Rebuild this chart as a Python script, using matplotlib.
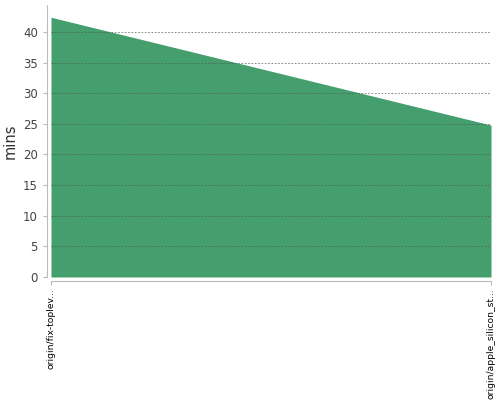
import matplotlib
matplotlib.use("Agg")
import matplotlib.pyplot as plt

categories = ["origin/fix-toplev...", "origin/apple_silicon_st..."]
values = [42.4, 24.8]
yticks = [0, 5, 10, 15, 20, 25, 30, 35, 40]

fig = plt.figure(figsize=(5, 4), dpi=100)
ax = fig.add_axes([0.102, 0.3075, 0.88, 0.68])
x = list(range(len(categories)))
ax.fill_between(x, 0, values, color="#449e6d", linewidth=0, zorder=1)
ax.set_xlim(0, len(categories) - 1)
ax.set_ylim(0, 44.4)
ax.set_yticks(yticks)
ax.set_xticks(x)
ax.yaxis.grid(True, color="#555555", linestyle=(0, (2, 2)), linewidth=0.6, zorder=3, alpha=0.8)
ax.set_axisbelow(False)
for s in ["top", "right"]:
    ax.spines[s].set_visible(False)
for s in ["left", "bottom"]:
    ax.spines[s].set_color("#bbbbbb")
    ax.spines[s].set_position(("outward", 2.9))
ax.tick_params(axis="y", colors="#bbbbbb", labelcolor="#444444", labelsize=8.5, length=3)
ax.tick_params(axis="x", colors="#bbbbbb", labelcolor="black", length=3, pad=2.5,
               labelrotation=90, labelsize=6.6)
ax.set_xticklabels(categories)
for lbl in ax.get_xticklabels():
    lbl.set_fontsize(6.6)
    lbl.set_rotation(90)
    lbl.set_verticalalignment("top")
    lbl.set_horizontalalignment("center")
for lbl in ax.get_yticklabels():
    lbl.set_fontsize(8.5)
ax.set_ylabel("mins", fontsize=10.5, color="#333333")
ax.yaxis.set_label_coords(-0.075, 0.5)
fig.savefig("out.png", dpi=100)
